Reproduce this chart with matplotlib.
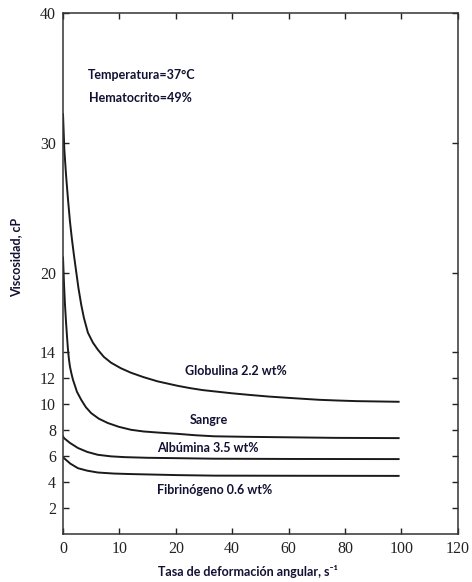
import matplotlib.pyplot as plt
import numpy as np

# x values are in the units of the printed tick labels (axis is not linear)
x_ticks = [0, 10, 20, 40, 60, 80, 100, 120]
x_tick_pos = [0, 1, 2, 3, 4, 5, 6, 7]
y_ticks = [2, 4, 6, 8, 10, 12, 14, 20, 30, 40]

glob_x = [0, 0.23, 0.53, 0.88, 1.23, 1.59, 1.94, 2.35, 2.73, 3.23, 3.7, 4.41, 5.29,
          6.17, 7.23, 8.52, 10.23, 12.05, 14.29, 16.75, 20.56, 25, 29.4, 33.6, 40,
          46, 53, 60, 65, 71, 77, 84, 90, 99]
glob_y = [32.23, 29.54, 27.6, 25.7, 24.0, 22.6, 21.4, 20.1, 18.9, 17.6, 16.6, 15.46,
          14.7, 14.15, 13.6, 13.15, 12.73, 12.38, 12.04, 11.72, 11.38, 11.2, 11.05,
          10.95, 10.8, 10.68, 10.55, 10.45, 10.38, 10.3, 10.25, 10.2, 10.18, 10.15]

sang_x = [0, 0.18, 0.35, 0.53, 0.71, 0.88, 1.06, 1.23, 1.5, 1.76, 2.47, 3.23, 4.06,
          4.99, 6.35, 7.94, 9.88, 12.05, 14.29, 16.75, 20.56, 27, 33.6, 45, 53, 65,
          76.6, 99]
sang_y = [21.23, 19.15, 17.6, 16.3, 15.15, 14.15, 13.38, 12.85, 12.3, 11.85, 10.92,
          10.3, 9.73, 9.28, 8.85, 8.52, 8.23, 8.0, 7.87, 7.79, 7.69, 7.58, 7.5, 7.46,
          7.44, 7.41, 7.38, 7.36]

alb_x = [0, 0.18, 1.2, 2.65, 4.3, 6.17, 8.5, 10.9, 15, 20.6, 33.6, 60, 99]
alb_y = [7.5, 7.36, 7.0, 6.6, 6.3, 6.08, 5.96, 5.9, 5.85, 5.82, 5.78, 5.76, 5.75]

fib_x = [0, 0.18, 1.3, 2.65, 4.3, 6.17, 9, 12.05, 20.6, 33.6, 60, 99]
fib_y = [5.9, 5.82, 5.4, 5.05, 4.86, 4.72, 4.64, 4.6, 4.52, 4.48, 4.47, 4.46]


def fwd(v):
    return np.interp(v, x_ticks, x_tick_pos)


def inv(p):
    return np.interp(p, x_tick_pos, x_ticks)


fig = plt.figure(figsize=(4.72, 5.82), dpi=100)
ax = fig.add_axes([0.1335, 0.0825, 0.8365, 0.8952])

ax.set_xscale('function', functions=(fwd, inv))

for xs, ys in [(glob_x, glob_y), (sang_x, sang_y), (alb_x, alb_y), (fib_x, fib_y)]:
    ax.plot(xs, ys, color='#1a1a1a', lw=1.4, solid_joinstyle='round')

ax.set_xlim(0, 120)
ax.set_ylim(0, 40)
ax.set_xticks(x_ticks)
ax.set_xticklabels([str(t) for t in x_ticks])
ax.set_yticks(y_ticks)
ax.set_yticklabels([str(t) for t in y_ticks])
ax.tick_params(direction='in', length=4.5, width=1, top=True, right=True,
               labelsize=11.5, pad=5, colors='#222222')
for lab in ax.get_xticklabels() + ax.get_yticklabels():
    lab.set_family('Liberation Serif')
for sp in ax.spines.values():
    sp.set_color('#333333')
    sp.set_linewidth(1.1)

sans = ['Lato', 'DejaVu Sans']
ax.set_ylabel('Viscosidad, cP', family=sans, fontsize=9, weight='bold', color='#111133')
ax.yaxis.set_label_coords(-0.104, 0.53)
ax.set_xlabel('Tasa de deformación angular, s⁻¹', family=sans, fontsize=9, weight='bold', color='#111133')
ax.xaxis.set_label_coords(0.468, -0.060)

notes = [
    ('Temperatura=37°C', 0.063, 0.881),
    ('Hematocrito=49%', 0.066, 0.837),
    ('Globulina 2.2 wt%', 0.309, 0.313),
    ('Sangre', 0.322, 0.219),
    ('Albúmina 3.5 wt%', 0.238, 0.165),
    ('Fibrinógeno 0.6 wt%', 0.238, 0.0845),
]
for txt, tx, ty in notes:
    ax.text(tx, ty, txt, transform=ax.transAxes, family=sans, fontsize=9,
            weight='bold', color='#111133', ha='left', va='center')

fig.savefig('out.png', dpi=100)
